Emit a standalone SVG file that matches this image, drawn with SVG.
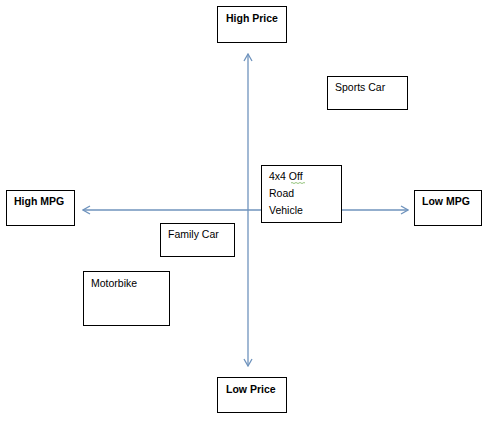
<svg xmlns="http://www.w3.org/2000/svg" width="490" height="421" viewBox="0 0 490 421">
<style>
.box{fill:#fff;stroke:#000;stroke-width:1}
.t{font-family:"Liberation Sans",Arial,sans-serif;font-size:10.5px;fill:#000}
.b{font-weight:bold}
.ax{stroke:#6f93bd;stroke-width:1.3;fill:none}
</style>
<defs>
<marker id="arr" viewBox="0 0 10 10" refX="9" refY="5" markerWidth="10" markerHeight="10" markerUnits="userSpaceOnUse" orient="auto">
<path d="M2,1 L9,5 L2,9" fill="none" stroke="#6f93bd" stroke-width="1.3"/>
</marker>
</defs>
<rect width="490" height="421" fill="#fff"/>
<g id="connectors">
<line class="ax" x1="248" y1="210" x2="248" y2="54" marker-end="url(#arr)"/>
<line class="ax" x1="248" y1="210" x2="248" y2="366" marker-end="url(#arr)"/>
<line class="ax" x1="248" y1="210" x2="83" y2="210" marker-end="url(#arr)"/>
<line class="ax" x1="248" y1="210" x2="408" y2="210" marker-end="url(#arr)"/>
</g>
<g id="high-price">
<rect class="box" x="217.5" y="6.5" width="69" height="36"/>
<text class="t b" x="226" y="22">High Price</text>
</g>
<g id="low-price">
<rect class="box" x="217.5" y="377.5" width="69" height="35"/>
<text class="t b" x="226" y="393">Low Price</text>
</g>
<g id="high-mpg">
<rect class="box" x="6.5" y="190.5" width="68" height="35"/>
<text class="t b" x="14" y="205">High MPG</text>
</g>
<g id="low-mpg">
<rect class="box" x="414.5" y="190.5" width="67" height="35"/>
<text class="t b" x="422" y="205">Low MPG</text>
</g>
<g id="sports-car">
<rect class="box" x="327.5" y="76.5" width="80" height="33"/>
<text class="t" x="335" y="91">Sports Car</text>
</g>
<g id="off-road">
<rect class="box" x="261.5" y="165.5" width="80" height="57"/>
<text class="t" x="269" y="180">4x4 Off</text>
<path d="M291,183 q1,-1 2,0 t2,0 t2,0 t2,0 t2,0 t2,0 t2,0" fill="none" stroke="#7ab55c" stroke-width="0.8"/>
<text class="t" x="269" y="197">Road</text>
<text class="t" x="269" y="214">Vehicle</text>
</g>
<g id="family-car">
<rect class="box" x="160.5" y="223.5" width="74" height="33"/>
<text class="t" x="168" y="238">Family Car</text>
</g>
<g id="motorbike">
<rect class="box" x="83.5" y="271.5" width="86" height="54"/>
<text class="t" x="91" y="287">Motorbike</text>
</g>
</svg>
